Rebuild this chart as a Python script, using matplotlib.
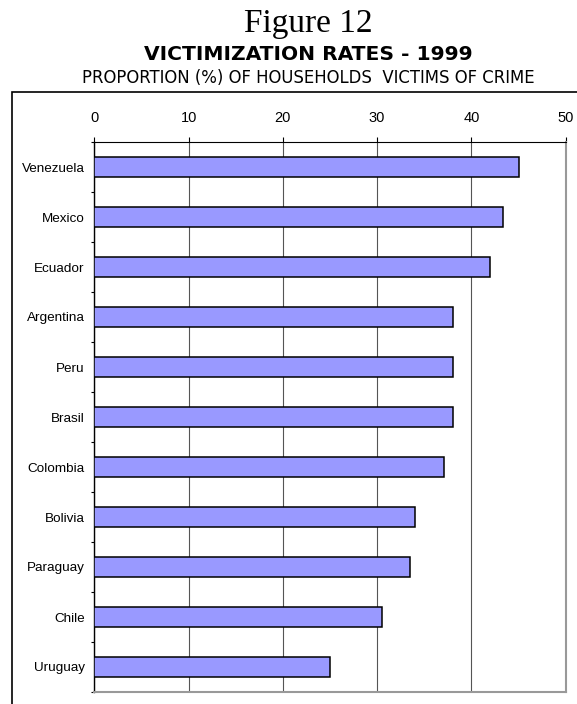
import matplotlib.pyplot as plt
from matplotlib.patches import Rectangle

countries = ["Venezuela", "Mexico", "Ecuador", "Argentina", "Peru", "Brasil",
             "Colombia", "Bolivia", "Paraguay", "Chile", "Uruguay"]
rates = [45.0, 43.4, 42.0, 38.0, 38.0, 38.0, 37.1, 34.0, 33.5, 30.5, 25.0]
xticks = [0, 10, 20, 30, 40, 50]

plt.rcParams['font.family'] = ['Liberation Sans', 'DejaVu Sans']

fig = plt.figure(figsize=(5.77, 7.04), dpi=100)
ax = fig.add_axes([94.3 / 577, 1 - 692 / 704, (565.7 - 94.3) / 577, (692 - 142) / 704])

pos = list(range(len(countries)))
ax.barh(pos, rates, height=0.4, color="#9999ff", edgecolor="black", linewidth=1.1, zorder=3)

ax.set_xlim(0, 50)
ax.set_ylim(len(countries) - 0.5, -0.5)
ax.set_xticks(xticks)
ax.xaxis.tick_top()
ax.tick_params(axis="x", direction="out", length=3.6, width=0.8, pad=9, labelsize=10.5)
ax.set_yticks(pos)
ax.set_yticklabels(countries)
ax.set_yticks([p - 0.5 for p in pos] + [len(countries) - 0.5], minor=True)
ax.tick_params(axis="y", which="major", length=0, pad=7, labelsize=9.7)
ax.tick_params(axis="y", which="minor", direction="out", length=2.4, width=0.8)
ax.xaxis.grid(True, color="#555555", linewidth=0.8, zorder=0)

ax.spines["top"].set_color("black")
ax.spines["left"].set_color("black")
ax.spines["left"].set_linewidth(1.0)
ax.spines["right"].set_color("#999999")
ax.spines["right"].set_linewidth(1.5)
ax.spines["bottom"].set_color("#999999")
ax.spines["bottom"].set_linewidth(1.5)

# outer frame, cut off at the right and bottom
fig.patches.append(Rectangle((12 / 577, -0.1), 1.2, 0.1 + 1 - 92 / 704, transform=fig.transFigure,
                             fill=False, edgecolor="black", linewidth=1.2))

cx = 308 / 577
fig.text(cx, 1 - 32 / 704, "Figure 12", ha="center", va="baseline",
         family=["Liberation Serif", "DejaVu Serif"], fontsize=24)
fig.text(cx, 1 - 60 / 704, "VICTIMIZATION RATES - 1999", ha="center", va="baseline",
         family="DejaVu Sans", fontsize=14.6, fontweight="bold")
fig.text(cx, 1 - 83.3 / 704, "PROPORTION (%) OF HOUSEHOLDS  VICTIMS OF CRIME", ha="center",
         va="baseline", family="DejaVu Sans", fontsize=11.9)

plt.savefig("out.png", dpi=100)
